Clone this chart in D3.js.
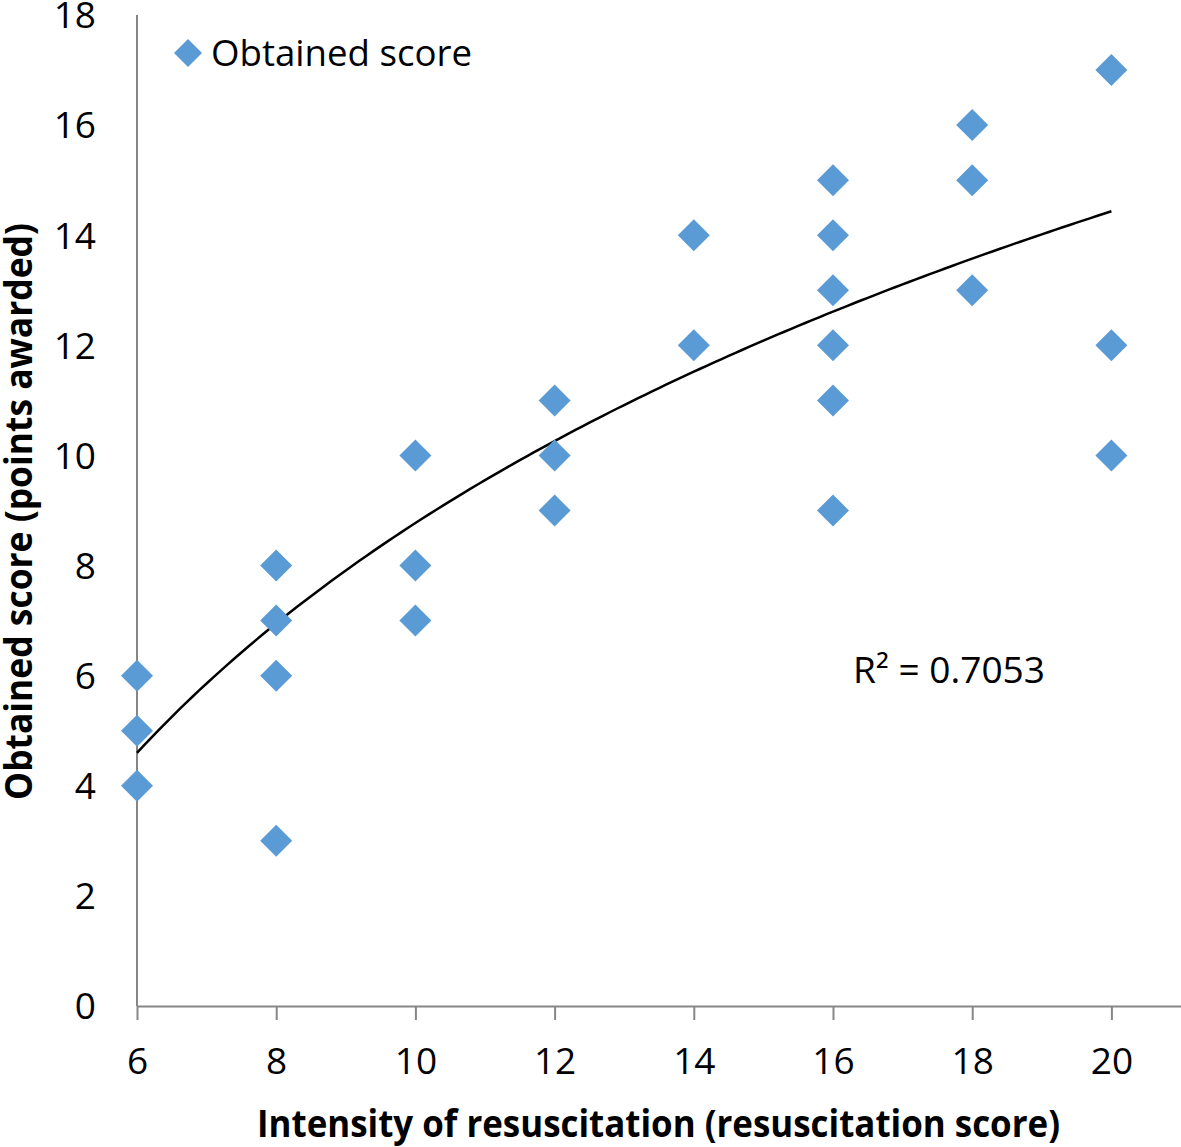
<!DOCTYPE html>
<html><head><meta charset="utf-8">
<script src="https://cdn.jsdelivr.net/npm/d3@7"></script>
<style>body{margin:0;background:#fff}svg{display:block}text{font-family:"Open Sans",sans-serif;fill:#000}</style>
</head><body>
<script>
const xs = [6,6,6, 8,8,8,8, 10,10,10, 12,12,12, 14,14, 16,16,16,16,16,16, 18,18,18, 20,20,20];
const ys = [6,5,4, 8,7,6,3, 10,8,7, 11,10,9, 14,12, 15,14,13,12,11,9, 16,15,13, 17,12,10];
const xTicks = [6,8,10,12,14,16,18,20];
const yTicks = [0,2,4,6,8,10,12,14,16,18];
const trendA = 8.17, trendB = -10.04; // logarithmic trendline y = a ln(x) + b
const seriesName = "Obtained score";
const r2Label = "R² = 0.7053";
const xTitle = "Intensity of resuscitation (resuscitation score)";
const yTitle = "Obtained score (points awarded)";

const W = 1181, H = 1147;
const svg = d3.select("body").append("svg").attr("width", W).attr("height", H);
const x = d3.scaleLinear().domain([6, 21]).range([137, 1181]);
const y = d3.scaleLinear().domain([0, 18]).range([1006, 15]);
const axisCol = "#868686";

// y axis line
svg.append("line").attr("x1", x(6)).attr("x2", x(6)).attr("y1", y(18)).attr("y2", y(0))
  .attr("stroke", axisCol).attr("stroke-width", 2);
// y tick labels
svg.selectAll(".yl").data(yTicks).enter().append("text")
  .attr("x", 96).attr("y", d => y(d)).attr("dy", "0.36em")
  .attr("text-anchor", "end").attr("font-size", 37).text(d => d);

// x axis
const xAxis = d3.axisBottom(x).tickValues(xTicks).tickSize(14).tickSizeOuter(0).tickPadding(28);
const gx = svg.append("g").attr("transform", `translate(0,${y(0)})`).call(xAxis);
gx.select(".domain").attr("stroke", axisCol).attr("stroke-width", 2);
gx.selectAll(".tick line").attr("stroke", axisCol).attr("stroke-width", 2);
gx.selectAll(".tick text").attr("font-size", 37).attr("font-family", "Open Sans").attr("fill", "#000");

// trendline
const tl = d3.range(6, 20.0001, 0.1).map(v => [v, trendA * Math.log(v) + trendB]);
svg.append("path").datum(tl)
  .attr("d", d3.line().x(d => x(d[0])).y(d => y(d[1])))
  .attr("fill", "none").attr("stroke", "#000").attr("stroke-width", 2.5);

// points
const sym = d3.symbol().type(d3.symbolSquare).size(2 * 16 * 16);
svg.selectAll(".pt").data(xs.map((v, i) => [v, ys[i]])).enter().append("path")
  .attr("d", sym)
  .attr("transform", d => `translate(${x(d[0])},${y(d[1])}) rotate(45)`)
  .attr("fill", "#5B9BD5");

// legend
svg.append("path").attr("d", d3.symbol().type(d3.symbolSquare).size(2 * 14 * 14))
  .attr("transform", "translate(188,53) rotate(45)").attr("fill", "#5B9BD5");
svg.append("text").attr("x", 211).attr("y", 66).attr("font-size", 36)
  .attr("textLength", 261).attr("lengthAdjust", "spacingAndGlyphs").text(seriesName);

// R2
svg.append("text").attr("x", 853).attr("y", 683).attr("font-size", 36)
  .attr("textLength", 192).attr("lengthAdjust", "spacingAndGlyphs").text(r2Label);

// axis titles
svg.append("text").attr("x", 257).attr("y", 1137).attr("font-size", 37).attr("font-weight", "bold")
  .attr("textLength", 803).attr("lengthAdjust", "spacingAndGlyphs").text(xTitle);
svg.append("text").attr("transform", "translate(32,800) rotate(-90)").attr("font-size", 37)
  .attr("font-weight", "bold").attr("textLength", 577).attr("lengthAdjust", "spacingAndGlyphs").text(yTitle);
</script>
</body></html>
